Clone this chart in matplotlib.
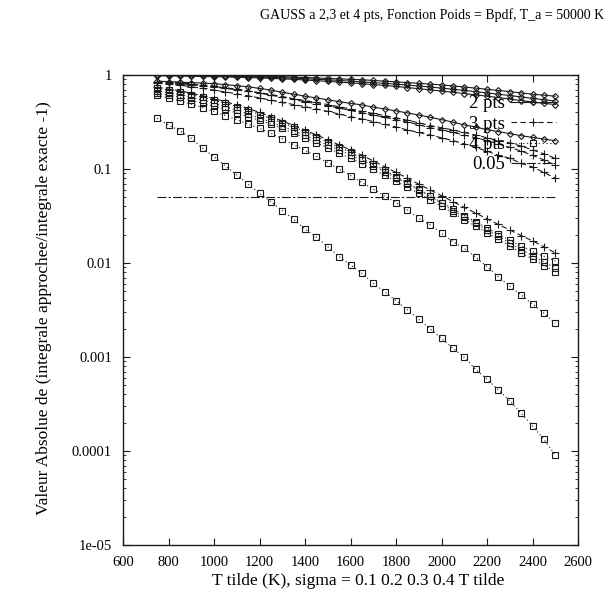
import matplotlib
matplotlib.use("Agg")
import matplotlib.pyplot as plt
from matplotlib.lines import Line2D
from matplotlib.ticker import LogLocator, NullFormatter

plt.rcParams['font.family'] = ['Liberation Serif', 'DejaVu Serif']

T = [750, 800, 850, 900, 950, 1000, 1050, 1100, 1150, 1200, 1250, 1300,
     1350, 1400, 1450, 1500, 1550, 1600, 1650, 1700, 1750, 1800, 1850, 1900,
     1950, 2000, 2050, 2100, 2150, 2200, 2250, 2300, 2350, 2400, 2450, 2500]

# "2 pts" curves (solid, diamonds)
pts2_a = [1.0, 1.0, 1.0, 0.995, 0.99, 0.99, 0.985, 0.98, 0.975, 0.97, 0.965, 0.96,
          0.95, 0.94, 0.93, 0.92, 0.91, 0.90, 0.89, 0.875, 0.86, 0.845, 0.83, 0.815,
          0.80, 0.785, 0.765, 0.745, 0.725, 0.705, 0.685, 0.665, 0.645, 0.625, 0.61, 0.595]
pts2_b = [0.99, 0.99, 0.99, 0.985, 0.98, 0.975, 0.97, 0.965, 0.96, 0.95, 0.945, 0.935,
          0.925, 0.915, 0.90, 0.89, 0.875, 0.86, 0.845, 0.83, 0.815, 0.80, 0.78, 0.765,
          0.745, 0.725, 0.705, 0.685, 0.665, 0.645, 0.625, 0.605, 0.585, 0.565, 0.545, 0.53]
pts2_c = [0.98, 0.98, 0.975, 0.97, 0.965, 0.96, 0.955, 0.945, 0.94, 0.93, 0.92, 0.91,
          0.90, 0.885, 0.87, 0.855, 0.84, 0.825, 0.81, 0.79, 0.775, 0.755, 0.735, 0.715,
          0.695, 0.675, 0.655, 0.635, 0.615, 0.595, 0.575, 0.555, 0.535, 0.515, 0.50, 0.485]
pts2_d = [0.86, 0.85, 0.84, 0.83, 0.82, 0.81, 0.79, 0.77, 0.75, 0.72, 0.69, 0.655,
          0.625, 0.595, 0.57, 0.545, 0.52, 0.50, 0.48, 0.455, 0.435, 0.415, 0.395, 0.375,
          0.355, 0.335, 0.315, 0.295, 0.28, 0.262, 0.25, 0.238, 0.226, 0.217, 0.208, 0.20]

# "3 pts" curves (dashed, plus)
pts3_a = [0.85, 0.84, 0.82, 0.80, 0.78, 0.76, 0.73, 0.71, 0.68, 0.65, 0.62, 0.59,
          0.56, 0.535, 0.51, 0.485, 0.46, 0.435, 0.41, 0.39, 0.37, 0.35, 0.33, 0.31,
          0.29, 0.275, 0.26, 0.245, 0.23, 0.215, 0.20, 0.19, 0.175, 0.16, 0.145, 0.13]
pts3_b = [0.84, 0.83, 0.81, 0.79, 0.77, 0.745, 0.72, 0.695, 0.67, 0.64, 0.61, 0.58,
          0.55, 0.52, 0.495, 0.47, 0.445, 0.42, 0.395, 0.375, 0.355, 0.335, 0.315, 0.295,
          0.275, 0.26, 0.245, 0.23, 0.215, 0.20, 0.185, 0.17, 0.155, 0.14, 0.125, 0.11]
pts3_c = [0.82, 0.80, 0.78, 0.75, 0.72, 0.69, 0.66, 0.63, 0.60, 0.57, 0.54, 0.51,
          0.485, 0.46, 0.435, 0.41, 0.385, 0.36, 0.34, 0.32, 0.30, 0.28, 0.26, 0.245,
          0.23, 0.215, 0.20, 0.185, 0.17, 0.155, 0.14, 0.13, 0.115, 0.105, 0.092, 0.08]
pts3_d = [0.74, 0.71, 0.68, 0.64, 0.60, 0.56, 0.52, 0.48, 0.44, 0.40, 0.36, 0.325,
          0.29, 0.26, 0.23, 0.205, 0.18, 0.16, 0.14, 0.122, 0.106, 0.092, 0.08, 0.069,
          0.06, 0.052, 0.045, 0.039, 0.034, 0.0295, 0.0257, 0.0225, 0.0196, 0.0172, 0.0149, 0.0128]

# "4 pts" curves (dotted, squares)
pts4_a = [0.72, 0.69, 0.66, 0.62, 0.58, 0.54, 0.50, 0.46, 0.42, 0.38, 0.345, 0.31,
          0.28, 0.25, 0.22, 0.195, 0.17, 0.15, 0.13, 0.112, 0.097, 0.083, 0.071, 0.061,
          0.052, 0.044, 0.038, 0.032, 0.0275, 0.0235, 0.0202, 0.0175, 0.0152, 0.0133, 0.0118, 0.0105]
pts4_b = [0.68, 0.65, 0.62, 0.58, 0.54, 0.50, 0.46, 0.42, 0.385, 0.35, 0.315, 0.285,
          0.255, 0.228, 0.203, 0.18, 0.16, 0.141, 0.124, 0.108, 0.094, 0.081, 0.07, 0.06,
          0.051, 0.043, 0.036, 0.031, 0.0265, 0.0225, 0.0192, 0.0163, 0.0139, 0.0119, 0.0103, 0.0089]
pts4_c = [0.64, 0.61, 0.58, 0.54, 0.50, 0.465, 0.43, 0.395, 0.36, 0.33, 0.30, 0.27,
          0.24, 0.215, 0.19, 0.168, 0.148, 0.13, 0.114, 0.099, 0.086, 0.074, 0.064, 0.055,
          0.047, 0.040, 0.034, 0.029, 0.0247, 0.021, 0.0178, 0.0151, 0.0129, 0.011, 0.0094, 0.0081]
pts4_d = [0.61, 0.57, 0.53, 0.49, 0.45, 0.41, 0.37, 0.335, 0.30, 0.27, 0.24, 0.21,
          0.182, 0.158, 0.136, 0.117, 0.10, 0.085, 0.072, 0.061, 0.0516, 0.0438, 0.0366, 0.0299,
          0.0254, 0.0207, 0.0169, 0.0143, 0.0115, 0.00914, 0.00715, 0.00569, 0.00457, 0.00366, 0.00292, 0.00228]
pts4_e = [0.346, 0.294, 0.255, 0.212, 0.166, 0.135, 0.108, 0.0863, 0.069, 0.0551, 0.0449, 0.0360,
          0.0292, 0.0230, 0.0188, 0.0149, 0.0117, 0.00952, 0.00777, 0.00608, 0.00495, 0.00397, 0.00316, 0.00252,
          0.00199, 0.00158, 0.00124, 0.000993, 0.000740, 0.000579, 0.000446, 0.000340, 0.000252, 0.000185, 0.000133, 0.0000906]

threshold = 0.05
threshold_x = [750, 2500]

series_2 = [pts2_a, pts2_b, pts2_c, pts2_d]
series_3 = [pts3_a, pts3_b, pts3_c, pts3_d]
series_4 = [pts4_a, pts4_b, pts4_c, pts4_d, pts4_e]

fig = plt.figure(figsize=(6.04, 5.98), dpi=100)
ax = fig.add_axes([123/604, 1-545/598, (578-123)/604, (545-75)/598])

ink = '#1a1a1a'
st2 = dict(color=ink, lw=0.8, ls='-', marker='D', ms=3.0, mfc='none', mew=0.8)
st3 = dict(color=ink, lw=0.8, ls=(0, (5, 3)), marker='+', ms=5.5, mew=0.8)
st4 = dict(color=ink, lw=0.8, ls=(0, (1, 2.5)), marker='s', ms=4.0, mfc='none', mew=0.8)
st5 = dict(color=ink, lw=0.8, ls=(0, (8, 2, 2, 2)))

for s in series_2:
    ax.plot(T, s, **st2)
for s in series_3:
    ax.plot(T, s, **st3)
for s in series_4:
    ax.plot(T, s, **st4)
ax.plot(threshold_x, [threshold, threshold], **st5)

ax.set_yscale('log')
ax.set_xlim(600, 2600)
ax.set_ylim(1e-5, 1)
ax.set_xticks(range(600, 2601, 200))
ax.set_yticks([1, 0.1, 0.01, 0.001, 0.0001, 1e-5])
ax.set_yticklabels(['1', '0.1', '0.01', '0.001', '0.0001', '1e-05'])
ax.yaxis.set_minor_locator(LogLocator(base=10, subs=range(2, 10), numticks=20))
ax.yaxis.set_minor_formatter(NullFormatter())
ax.tick_params(which='both', direction='in', top=True, right=True, labelsize=10.5, pad=8, color=ink)
ax.tick_params(which='major', length=5, width=0.8)
ax.tick_params(which='minor', length=2.5, width=0.6)
for sp in ax.spines.values():
    sp.set_linewidth(1.0)
    sp.set_color(ink)

ax.set_xlabel('T tilde (K), sigma = 0.1 0.2 0.3 0.4 T tilde', fontsize=12.5, va='center')
ax.xaxis.set_label_coords((358-123)/455, (545-581)/470)
ax.set_ylabel('Valeur Absolue de (integrale approchee/integrale exacte -1)', fontsize=12.5, va='center')
ax.yaxis.set_label_coords((44-123)/455, (545-308)/470)
fig.text(432/604, 1-15/598, 'GAUSS a 2,3 et 4 pts, Fonction Poids = Bpdf, T_a = 50000 K',
         ha='center', va='center', fontsize=10)

handles = [Line2D([], [], **st2), Line2D([], [], **st3), Line2D([], [], **st4), Line2D([], [], **st5)]
leg = ax.legend(handles, ['2 pts', '3 pts', '4 pts', '0.05'], loc='upper right',
                bbox_to_anchor=(565/604, 1-86/598), bbox_transform=fig.transFigure,
                frameon=False, markerfirst=False, fontsize=13.5, handlelength=2.4,
                labelspacing=0.17, borderpad=0, handletextpad=0.3, numpoints=1)

fig.savefig('out.png', dpi=100)
